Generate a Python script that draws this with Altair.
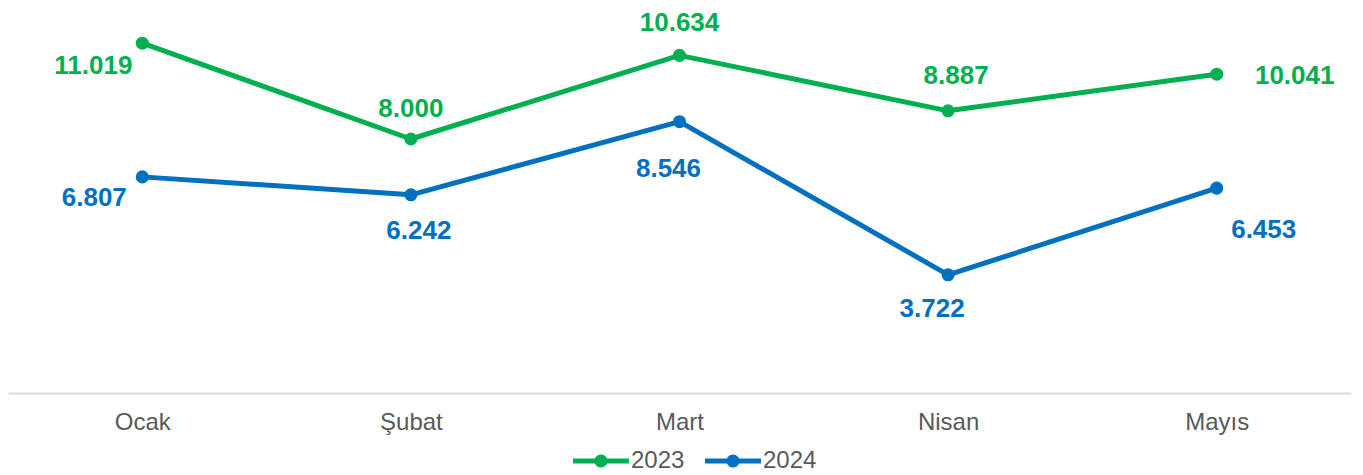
import altair as alt
import pandas as pd

months = ["Ocak", "Şubat", "Mart", "Nisan", "Mayıs"]
series = ["2023", "2024"]
values_2023 = [11.019, 8.000, 10.634, 8.887, 10.041]
values_2024 = [6.807, 6.242, 8.546, 3.722, 6.453]
colors = ["#00B050", "#0070C0"]

rows = []
for s, vals in [("2023", values_2023), ("2024", values_2024)]:
    for m, v in zip(months, vals):
        rows.append({"Ay": m, "Yıl": s, "Değer": v})
df = pd.DataFrame(rows)

# label placement (style): (dx, dy) relative to the point, alphabetic baseline
label_offsets = {
    ("2023", "Ocak"): (-49, 31),
    ("2023", "Şubat"): (0, -22),
    ("2023", "Mart"): (0, -24),
    ("2023", "Nisan"): (8, -27),
    ("2023", "Mayıs"): (78, 10),
    ("2024", "Ocak"): (-48, 29),
    ("2024", "Şubat"): (8, 44),
    ("2024", "Mart"): (-11, 55),
    ("2024", "Nisan"): (-16, 42),
    ("2024", "Mayıs"): (47, 50),
}

color_scale = alt.Scale(domain=series, range=colors)
x_enc = alt.X(
    "Ay:N",
    sort=months,
    title=None,
    axis=alt.Axis(
        labelAngle=0,
        ticks=False,
        grid=False,
        domainColor="#D9D9D9",
        domainWidth=2,
        labelFont="Liberation Sans",
        labelFontSize=24,
        labelColor="#595959",
        labelPadding=17,
    ),
)
y_enc = alt.Y("Değer:Q", scale=alt.Scale(domain=[0, 12], nice=False), axis=None)

base = alt.Chart(df).encode(x=x_enc, y=y_enc)

legend_path = "M-4.3,-0.38L4.3,-0.38L4.3,0.38L-4.3,0.38Z M1,0A1,1,0,1,1,-1,0A1,1,0,1,1,1,0Z"
legend = alt.Legend(
    title=None,
    orient="none",
    legendX=581,
    legendY=437,
    direction="horizontal",
    padding=0,
    symbolType=legend_path,
    symbolSize=169,
    symbolStrokeWidth=0,
    symbolFillColor="#00B050",
    labelFont="Liberation Sans",
    labelFontSize=24,
    labelColor="#595959",
    labelOffset=18,
    columnPadding=20,
)

line = base.mark_line(strokeWidth=5, strokeCap="round", strokeJoin="round").encode(
    color=alt.Color("Yıl:N", scale=color_scale, legend=legend)
)
points = base.mark_circle(size=170, opacity=1).encode(
    color=alt.Color("Yıl:N", scale=color_scale, legend=legend)
)

text_layers = []
for (s, m), (dx, dy) in label_offsets.items():
    col = colors[series.index(s)]
    t = (
        base.mark_text(
            font="Liberation Sans",
            fontSize=26,
            fontWeight="bold",
            color=col,
            align="center",
            baseline="alphabetic",
            dx=dx,
            dy=dy,
        )
        .encode(text=alt.Text("Değer:Q", format=".3f"))
        .transform_filter((alt.datum["Yıl"] == s) & (alt.datum["Ay"] == m))
    )
    text_layers.append(t)

chart = (
    alt.layer(line, points, *text_layers)
    .properties(
        width=1343,
        height=381,
        padding={"left": 0, "top": 2, "right": 0, "bottom": 0},
    )
    .configure_view(stroke=None)
)

chart.save("out.html", embed_options={"renderer": "svg", "actions": False})
